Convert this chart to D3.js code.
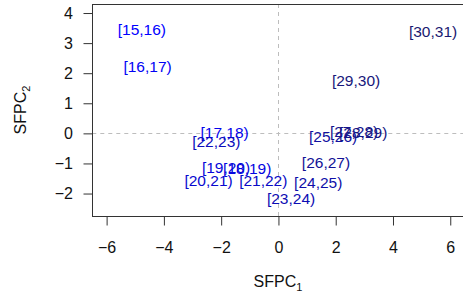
<!DOCTYPE html>
<html>
<head>
<meta charset="utf-8">
<script src="https://cdn.jsdelivr.net/npm/d3@7"></script>
<style>
  body { margin: 0; background: #fff; }
  text { font-family: "Liberation Sans", Arial, sans-serif; }
</style>
</head>
<body>
<div id="chart"></div>
<script>
const W = 463, H = 297

// data: interval labels and their scores on the two components
const labels = ["[15,16)", "[16,17)", "[17,18)", "[18,19)", "[19,20)", "[20,21)", "[21,22)", "[22,23)",
                "[23,24)", "[24,25)", "[25,26)", "[26,27)", "[27,28)", "[28,29)", "[29,30)", "[30,31)"]
const pc1 = [-4.77, -4.57, -1.88, -1.09, -1.83, -2.44, -0.53, -2.17, 0.44, 1.39, 1.91, 1.66, 2.64, 2.96, 2.71, 5.40]
const pc2 = [3.46, 2.22, 0.02, -1.17, -1.14, -1.55, -1.55, -0.26, -2.16, -1.64, -0.11, -0.98, 0.05, 0.04, 1.77, 3.38]
const xTicks = [-6, -4, -2, 0, 2, 4, 6]
const yTicks = [-2, -1, 0, 1, 2, 3, 4]

const svg = d3.select("#chart").append("svg")
    .attr("width", W)
    .attr("height", H)

// Scales
const x = d3.scaleLinear()
    .domain([-6.5, 7])
    .range([92.3, 478.9])

const y = d3.scaleLinear()
    .domain([-2.77, 4.3])
    .range([216.7, 4])

const FS = 15.5, TFS = 16
const minus = d => d < 0 ? "\u2212" + Math.abs(d) : String(d)

// reference lines at zero
svg.append("line")
    .attr("x1", x(-6.5)).attr("x2", x(7))
    .attr("y1", Math.round(y(0)) + 0.5).attr("y2", Math.round(y(0)) + 0.5)
    .attr("stroke", "#bdbdbd")
    .attr("stroke-dasharray", "4,4")
svg.append("line")
    .attr("x1", Math.round(x(0)) + 0.5).attr("x2", Math.round(x(0)) + 0.5)
    .attr("y1", y(4.3)).attr("y2", y(-2.77))
    .attr("stroke", "#bdbdbd")
    .attr("stroke-dasharray", "4,4")

// X Axis
const xAxisCall = d3.axisBottom(x)
    .tickValues(xTicks)
    .tickSize(9)
    .tickPadding(16)
    .tickFormat(minus)
const gx = svg.append("g")
    .attr("transform", `translate(0, ${216.5})`)
    .call(xAxisCall)
gx.select(".domain").remove()
gx.selectAll("line").attr("stroke", "#333")
gx.selectAll("text").attr("font-size", TFS).attr("fill", "#111")
    .attr("font-family", "Liberation Sans, Arial, sans-serif")

// Y Axis
const yAxisCall = d3.axisLeft(y)
    .tickValues(yTicks)
    .tickSize(9)
    .tickPadding(10.5)
    .tickFormat(minus)
const gy = svg.append("g")
    .attr("transform", `translate(${92.5}, 0)`)
    .call(yAxisCall)
gy.select(".domain").remove()
gy.selectAll("line").attr("stroke", "#333")
gy.selectAll("text").attr("font-size", TFS).attr("fill", "#111")
    .attr("font-family", "Liberation Sans, Arial, sans-serif")

// plot box
svg.append("rect")
    .attr("x", 92.5).attr("y", 4.5)
    .attr("width", x(7) - 92.5).attr("height", 212)
    .attr("fill", "none")
    .attr("stroke", "#333")

// labels, coloured from blue to midnight blue
const col = d3.scaleLinear()
    .domain([0, labels.length - 1])
    .range(["blue", "midnightblue"])
    .interpolate(d3.interpolateRgb)

svg.append("g").selectAll("text")
    .data(labels)
    .enter().append("text")
    .attr("x", (d, i) => x(pc1[i]))
    .attr("y", (d, i) => y(pc2[i]))
    .attr("dy", "0.36em")
    .attr("text-anchor", "middle")
    .attr("font-size", FS)
    .attr("fill", (d, i) => col(i))
    .text(d => d)

// axis titles
const xLabel = svg.append("text")
    .attr("x", 278)
    .attr("y", 287)
    .attr("text-anchor", "middle")
    .attr("font-size", TFS)
    .attr("fill", "#111")
xLabel.append("tspan").text("SFPC")
xLabel.append("tspan").attr("dy", 4).attr("font-size", 11).text("1")

const yLabel = svg.append("text")
    .attr("transform", "translate(25.5, 110) rotate(-90)")
    .attr("text-anchor", "middle")
    .attr("font-size", TFS)
    .attr("fill", "#111")
yLabel.append("tspan").text("SFPC")
yLabel.append("tspan").attr("dy", 4).attr("font-size", 11).text("2")
</script>
</body>
</html>
